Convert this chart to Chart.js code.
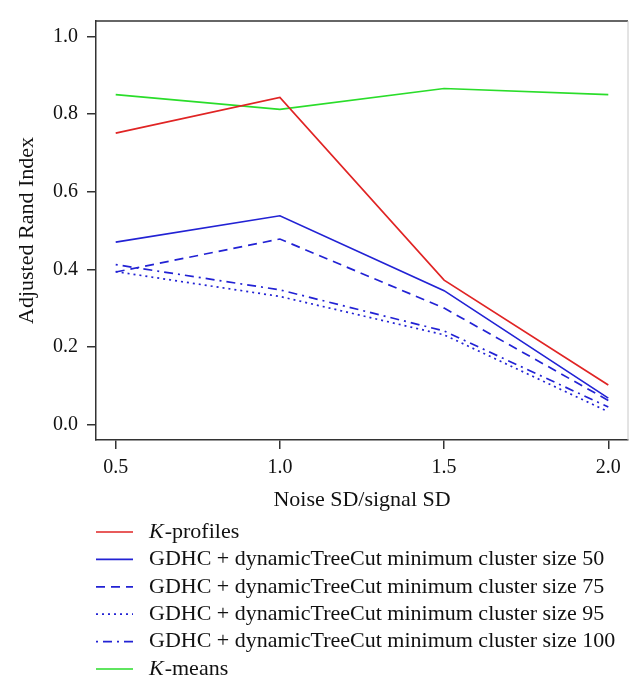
<!DOCTYPE html>
<html>
<head>
<meta charset="utf-8">
<script src="https://cdn.jsdelivr.net/npm/chart.js@4.4.0/dist/chart.umd.min.js"></script>
<style>
  html, body { margin: 0; padding: 0; background: #fff; }
</style>
</head>
<body>
<canvas id="ariChart" width="642" height="689"></canvas>
<script>
const noiseRatio = [0.5, 1.0, 1.5, 2.0];
const xTicks = [0.5, 1.0, 1.5, 2.0];
const yTicks = [0.0, 0.2, 0.4, 0.6, 0.8, 1.0];

// adjusted rand index per method
const kProfiles = [0.751, 0.843, 0.372, 0.102];
const gdhc50 = [0.470, 0.538, 0.345, 0.068];
const gdhc75 = [0.393, 0.478, 0.300, 0.062];
const gdhc95 = [0.394, 0.330, 0.231, 0.033];
const gdhc100 = [0.412, 0.347, 0.241, 0.045];
const kMeans = [0.850, 0.812, 0.866, 0.850];

// italic part + plain part of each legend label
const nameItalic = ["K", "", "", "", "", "K"];
const nameRest = [
    "-profiles",
    "GDHC + dynamicTreeCut minimum cluster size 50",
    "GDHC + dynamicTreeCut minimum cluster size 75",
    "GDHC + dynamicTreeCut minimum cluster size 95",
    "GDHC + dynamicTreeCut minimum cluster size 100",
    "-means",
];

const serif = "'Liberation Serif', 'DejaVu Serif', serif";
const red = "#e02424";
const blue = "#2222d4";
const green = "#2add2a";

Chart.defaults.font.family = serif;
Chart.defaults.color = "#111";

function points(values) {
    return noiseRatio.map((x, i) => ({ x: x, y: values[i] }));
}

function series(values, i, color, dash) {
    return {
        label: nameItalic[i] + nameRest[i],
        data: points(values),
        borderColor: color,
        borderWidth: 1.7,
        borderDash: dash,
        pointRadius: 0,
        tension: 0,
        fill: false,
    };
}

// draws the top/right frame and the legend rows under the x axis
const frameAndLegend = {
    id: "frameAndLegend",
    afterDraw(chart) {
        const ctx = chart.ctx;
        const a = chart.chartArea;
        ctx.save();
        ctx.lineWidth = 1.5;
        ctx.strokeStyle = "#333";
        ctx.beginPath();
        ctx.moveTo(a.left, a.top);
        ctx.lineTo(a.right, a.top);
        ctx.stroke();
        ctx.strokeStyle = "#c8c8c8";
        ctx.lineWidth = 1;
        ctx.beginPath();
        ctx.moveTo(a.right, a.top);
        ctx.lineTo(a.right, a.bottom);
        ctx.stroke();

        const rowY = 532;
        const rowStep = 27.4;
        ctx.textBaseline = "middle";
        chart.data.datasets.forEach((ds, i) => {
            const y = rowY + i * rowStep;
            ctx.strokeStyle = ds.borderColor;
            ctx.lineWidth = ds.borderWidth;
            ctx.setLineDash(ds.borderDash || []);
            ctx.beginPath();
            ctx.moveTo(96, y);
            ctx.lineTo(133, y);
            ctx.stroke();
            ctx.setLineDash([]);

            let x = 149;
            ctx.fillStyle = "#111";
            if (nameItalic[i]) {
                ctx.font = "italic 22px " + serif;
                ctx.fillText(nameItalic[i], x, y);
                x += ctx.measureText(nameItalic[i]).width + 1;
            }
            ctx.font = "22px " + serif;
            ctx.fillText(nameRest[i], x, y);
        });
        ctx.restore();
    }
};

const ariChart = new Chart(document.getElementById("ariChart"), {
    type: "line",
    data: {
        datasets: [
            series(kProfiles, 0, red, []),
            series(gdhc50, 1, blue, []),
            series(gdhc75, 2, blue, [9, 6]),
            series(gdhc95, 3, blue, [2, 4]),
            series(gdhc100, 4, blue, [2, 5, 9, 5]),
            series(kMeans, 5, green, []),
        ]
    },
    options: {
        responsive: false,
        animation: false,
        layout: { padding: { top: 15, right: 14, left: 14, bottom: 176 } },
        plugins: {
            legend: { display: false },
            tooltip: { enabled: false },
        },
        scales: {
            x: {
                type: "linear",
                min: 0.44,
                max: 2.06,
                afterBuildTicks: (scale) => { scale.ticks = xTicks.map(v => ({ value: v })); },
                afterFit: (scale) => { scale.height = 73; },
                ticks: {
                    font: { size: 20 },
                    padding: 7,
                    maxRotation: 0,
                    callback: (v) => v.toFixed(1),
                },
                grid: { drawOnChartArea: false, drawTicks: true, tickLength: 9, color: "#333", lineWidth: 1.5 },
                border: { display: true, color: "#333", width: 1.5 },
                title: {
                    display: true,
                    text: "Noise SD/signal SD",
                    font: { size: 22 },
                    padding: 0,
                },
            },
            y: {
                min: -0.04,
                max: 1.04,
                afterBuildTicks: (scale) => { scale.ticks = yTicks.map(v => ({ value: v })); },
                afterFit: (scale) => { scale.width = 82; },
                ticks: {
                    font: { size: 20 },
                    padding: 9,
                    callback: (v) => v.toFixed(1),
                },
                grid: { drawOnChartArea: false, drawTicks: true, tickLength: 9, color: "#333", lineWidth: 1.5 },
                border: { display: true, color: "#333", width: 1.5 },
                title: {
                    display: true,
                    text: "Adjusted Rand Index",
                    font: { size: 22 },
                    padding: 0,
                },
            },
        }
    },
    plugins: [frameAndLegend],
});
</script>
</body>
</html>
